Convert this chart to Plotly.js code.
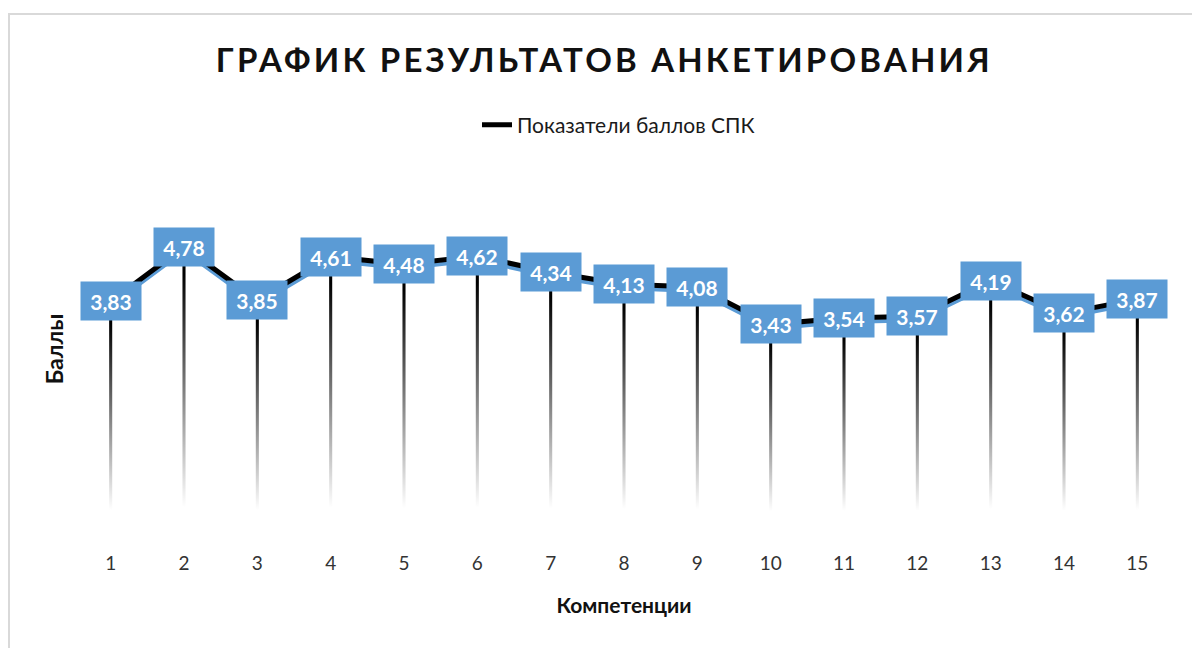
<!DOCTYPE html>
<html><head><meta charset="utf-8">
<script src="https://cdn.plot.ly/plotly-3.0.1.min.js"></script>
<style>
html,body{margin:0;padding:0;background:#fff;overflow:hidden;}
#chart{width:1192px;height:648px;}
#frame{position:absolute;left:8px;top:13px;width:1300px;height:800px;border-left:2px solid #d9d9d9;border-top:2px solid #d9d9d9;pointer-events:none;}
.gtitle{letter-spacing:3.2px;}
</style></head><body>
<div id="chart"></div>
<div id="frame"></div>
<script>
const categories = [1,2,3,4,5,6,7,8,9,10,11,12,13,14,15];
const scores = [3.83,4.78,3.85,4.61,4.48,4.62,4.34,4.13,4.08,3.43,3.54,3.57,4.19,3.62,3.87];
const seriesName = 'Показатели баллов СПК';
const chartTitle = 'ГРАФИК РЕЗУЛЬТАТОВ АНКЕТИРОВАНИЯ';
const xTitle = 'Компетенции';
const yTitle = 'Баллы';

const fmt = v => v.toFixed(2).replace('.', ',');
const half = 0.021;

const drops = categories.map((c, i) => ({
  type: 'scatter', mode: 'none',
  x: [c - half, c + half, c + half, c - half],
  y: [scores[i], scores[i], 0, 0],
  fill: 'toself',
  fillgradient: {type: 'vertical', colorscale: [[0, 'rgba(0,0,0,0)'], [0.05, 'rgba(0,0,0,0)'], [0.9, 'rgba(0,0,0,1)'], [1, 'rgba(0,0,0,1)']]},
  hoverinfo: 'skip', showlegend: false
}));

const shadow = {
  type: 'scatter', mode: 'lines', x: categories, y: scores, yaxis: 'y2',
  line: {color: '#5B9BD5', width: 4}, showlegend: false, hoverinfo: 'skip'
};
const main = {
  type: 'scatter', mode: 'lines', x: categories, y: scores, yaxis: 'y3',
  name: seriesName, line: {color: '#000000', width: 5}
};

const layout = {
  width: 1192, height: 648,
  paper_bgcolor: '#ffffff', plot_bgcolor: '#ffffff',
  margin: {l: 74, r: 18, t: 177, b: 127},
  separators: ', ',
  title: {text: chartTitle, x: 0.507, xref: 'container', xanchor: 'center', y: 1 - 60/648, yref: 'container', yanchor: 'middle',
    font: {family: 'Lato', size: 33, weight: 'bold', color: '#111111'}},
  showlegend: true,
  legend: {orientation: 'h', x: 0.495, xanchor: 'center', y: 1 + (177-125)/344, yanchor: 'middle',
    font: {family: 'Lato', size: 21, color: '#1a1a1a'}, bgcolor: 'rgba(0,0,0,0)'},
  xaxis: {range: [0.5, 15.5], tickvals: categories, ticktext: categories.map(String), showgrid: false, zeroline: false,
    showline: false, ticks: 'outside', ticklen: 25, tickcolor: 'rgba(0,0,0,0)',
    tickfont: {family: 'Lato', size: 19, color: '#333333'},
    title: {text: xTitle, font: {family: 'Lato', size: 21, weight: 'bold', color: '#111111'}, standoff: 25}},
  yaxis: {range: [0, 6], showgrid: false, zeroline: false, showline: false, showticklabels: false, ticks: '',
    title: {text: yTitle, font: {family: 'Lato', size: 23, weight: 'bold', color: '#111111'}, standoff: 2}},
  yaxis2: {range: [0.07, 6.07], overlaying: 'y', visible: false},
  yaxis3: {range: [0, 6], overlaying: 'y', visible: false},
  annotations: categories.map((c, i) => ({
    x: c, y: scores[i], xref: 'x', yref: 'y', text: fmt(scores[i]), showarrow: false,
    bgcolor: '#5B9BD5', font: {family: 'Lato', size: 21, weight: 'bold', color: '#ffffff'},
    width: 48, height: 26, borderpad: 6, xanchor: 'center', yanchor: 'middle', align: 'center', valign: 'middle'
  }))
};

Plotly.newPlot('chart', drops.concat([shadow, main]), layout, {staticPlot: true, displayModeBar: false});
</script>
</body></html>
